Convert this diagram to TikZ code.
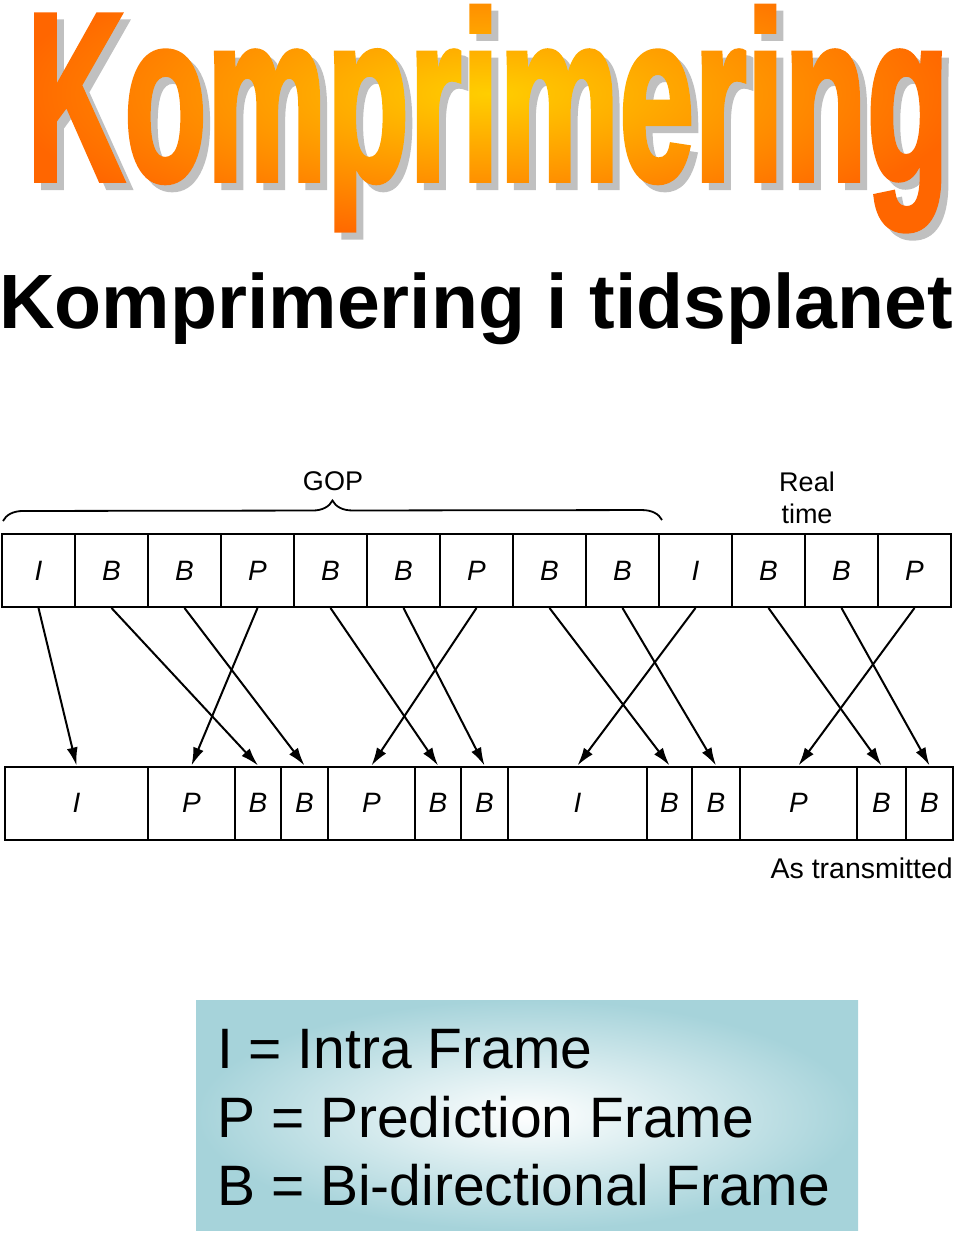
\documentclass[tikz,border=0pt]{standalone}
\usepackage{fontspec}
\setmainfont{Liberation Sans}
\newfontfamily\wordfont{Liberation Sans}[BoldFeatures={FakeBold=2.5}]
\usepackage{graphicx}
\usetikzlibrary{arrows.meta, decorations.pathreplacing, fadings}

\definecolor{wordedge}{RGB}{255,102,0}
\definecolor{wordcore}{RGB}{255,206,0}
\definecolor{wordshadow}{RGB}{192,192,192}
\definecolor{legendteal}{RGB}{166,211,218}

\newcommand{\wordtext}{\resizebox{922pt}{173pt}{\wordfont\bfseries Komprimering}}

\tikzset{
  framebox/.style={draw, line width=2pt, inner sep=0pt, minimum height=73pt,
    font=\fontsize{28}{30}\selectfont\itshape},
  passarrow/.style={line width=2pt, -{Latex[length=18pt,width=11pt]}},
  wordart/.style={anchor=base, inner sep=0pt},
  legendtext/.style={anchor=base west, inner sep=0pt,
    font=\fontsize{57}{60}\selectfont},
}

\begin{document}
\pgfdeclarefading{wordfade}{%
  \begin{pgfpicture}
    \pgfpathrectangle{\pgfpoint{-480pt}{-150pt}}{\pgfpoint{960pt}{300pt}}
    \pgfusepath{use as bounding box}
    \pgftext[base,at={\pgfpoint{0pt}{-86.5pt}}]{\color{pgftransparent!0}\wordtext}
  \end{pgfpicture}}
\begin{tikzpicture}[x=1pt, y=-1pt]
    \useasboundingbox (0,0) rectangle (960,1237);

    % word art heading
    \node[wordart, text=wordshadow] (shadow) at (495,187) {\wordtext};
    \shade[path fading=wordfade, fit fading=false,
      fading transform={shift={(488,93.5)}},
      inner color=wordcore, outer color=wordedge] (8,-56.5) rectangle (968,243.5);

    \node[anchor=base west, inner sep=0pt,
      font=\fontsize{77}{80}\selectfont\bfseries] (title)
      at (-1,328) {Komprimering i tidsplanet};

    % real time order
    \foreach \lbl [count=\i] in {I,B,B,P,B,B,P,B,B,I,B,B,P}
      \node[framebox, minimum width=73pt] (t\i) at ({2+73*(\i-0.5)},570.5) {\lbl};

    % transmitted order
    \foreach \xl/\xr/\lbl [count=\i] in {5/148/I, 148/235/P, 235/281/B,
        281/328/B, 328/415/P, 415/461/B, 461/508/B, 508/647/I, 647/692/B,
        692/740/B, 740/857/P, 857/906/B, 906/953/B}
      \node[framebox, minimum width={(\xr-\xl)*1pt}] (b\i)
        at ({(\xl+\xr)/2},803) {\lbl};

    \foreach \a/\b in {1/1, 2/3, 3/4, 4/2, 5/6, 6/7, 7/5, 8/9, 9/10,
        10/8, 11/12, 12/13, 13/11}
      \draw[passarrow] (t\a.south) -- (b\b.north);

    \coordinate (gopleft) at (3,521);
    \coordinate (gopright) at (662,520);
    \draw[line width=1.8pt, decorate,
      decoration={brace, amplitude=20pt, aspect=0.5}] (gopleft) -- (gopright);

    \node[font=\fontsize{27}{30}\selectfont] (gop) at (333,481) {GOP};
    \node[font=\fontsize{27}{32}\selectfont, align=center, inner sep=0pt]
      (realtime) at (807,497.5) {Real\\time};
    \node[anchor=base east, inner sep=0pt, font=\fontsize{28.5}{30}\selectfont]
      (sent) at (953,878) {As transmitted};

    % legend
    \node[shade, inner color=white, outer color=legendteal,
      minimum width=662pt, minimum height=230pt, inner sep=0pt]
      (legend) at (527,1115) {};
    \node[legendtext] (legi) at (217,1068) {I = Intra Frame};
    \node[legendtext] (legp) at (217,1137) {P = Prediction Frame};
    \node[legendtext] (legb) at (217,1205) {B = Bi-directional Frame};
\end{tikzpicture}
\end{document}
